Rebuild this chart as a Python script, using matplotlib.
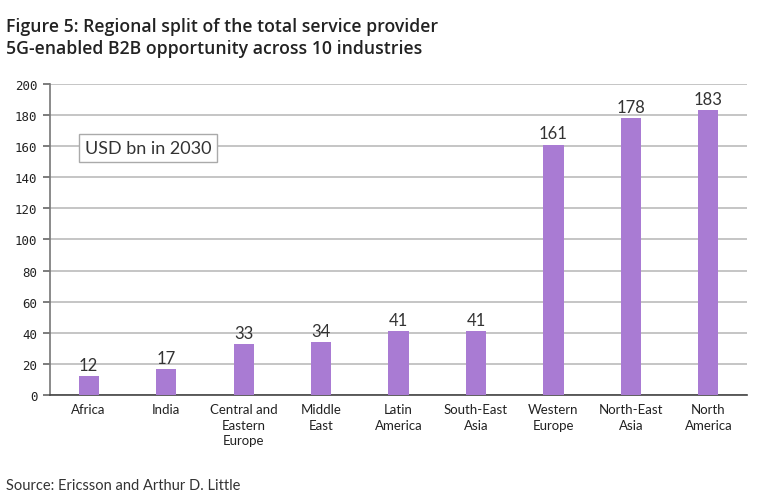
import matplotlib
matplotlib.use("Agg")
import matplotlib.pyplot as plt

categories = ["Africa", "India", "Central and\nEastern\nEurope", "Middle\nEast", "Latin\nAmerica",
              "South-East\nAsia", "Western\nEurope", "North-East\nAsia", "North\nAmerica"]
values = [12, 17, 33, 34, 41, 41, 161, 178, 183]
yticks = [0, 20, 40, 60, 80, 100, 120, 140, 160, 180, 200]

fig = plt.figure(figsize=(7.57, 5.02), dpi=100)
ax = fig.add_axes([0.066, 0.211, 0.921, 0.620])

x = list(range(len(categories)))
bar_color = "#A97BD3"
ax.bar(x, values, width=0.26, color=bar_color, zorder=3)
for xi, v in zip(x, values):
    ax.text(xi, v + 2, str(v), ha="center", va="bottom", fontsize=12,
            family="Lato", color="#333333")

ax.set_xlim(-0.5, len(categories) - 0.5)
ax.set_ylim(0, 200)
ax.set_yticks(yticks)
ax.set_yticklabels([str(t) for t in yticks], family="DejaVu Sans Mono", fontsize=9, color="#222222")
ax.yaxis.grid(True, color="#BBBBBB", linewidth=1.2, zorder=0)
ax.set_xticks(x)
ax.set_xticklabels(categories, family="Lato", fontsize=9.5, color="#222222", linespacing=1.35)
ax.tick_params(axis="x", length=0, pad=6)
ax.tick_params(axis="y", length=5, color="#666666", width=1.2, pad=4)
for s in ["top", "right"]:
    ax.spines[s].set_visible(False)
ax.spines["left"].set_color("#777777")
ax.spines["left"].set_linewidth(1.2)
ax.spines["bottom"].set_color("#444444")
ax.spines["bottom"].set_linewidth(1.2)

ax.text(0.050, 0.795, "USD bn in 2030", transform=ax.transAxes, fontsize=13,
        family="Lato", color="#333333", va="center", ha="left",
        bbox=dict(boxstyle="square,pad=0.33", facecolor="white", edgecolor="#AAAAAA", linewidth=1.0),
        zorder=5)

fig.text(0.008, 0.965, "Figure 5: Regional split of the total service provider\n5G-enabled B2B opportunity across 10 industries",
         fontsize=12.7, family="Open Sans", fontweight="semibold", color="#222222", va="top", ha="left", linespacing=1.3)
fig.text(0.008, 0.032, "Source: Ericsson and Arthur D. Little", fontsize=10.5, family="Lato",
         color="#333333", va="center", ha="left")

fig.savefig("out.png", dpi=100)
